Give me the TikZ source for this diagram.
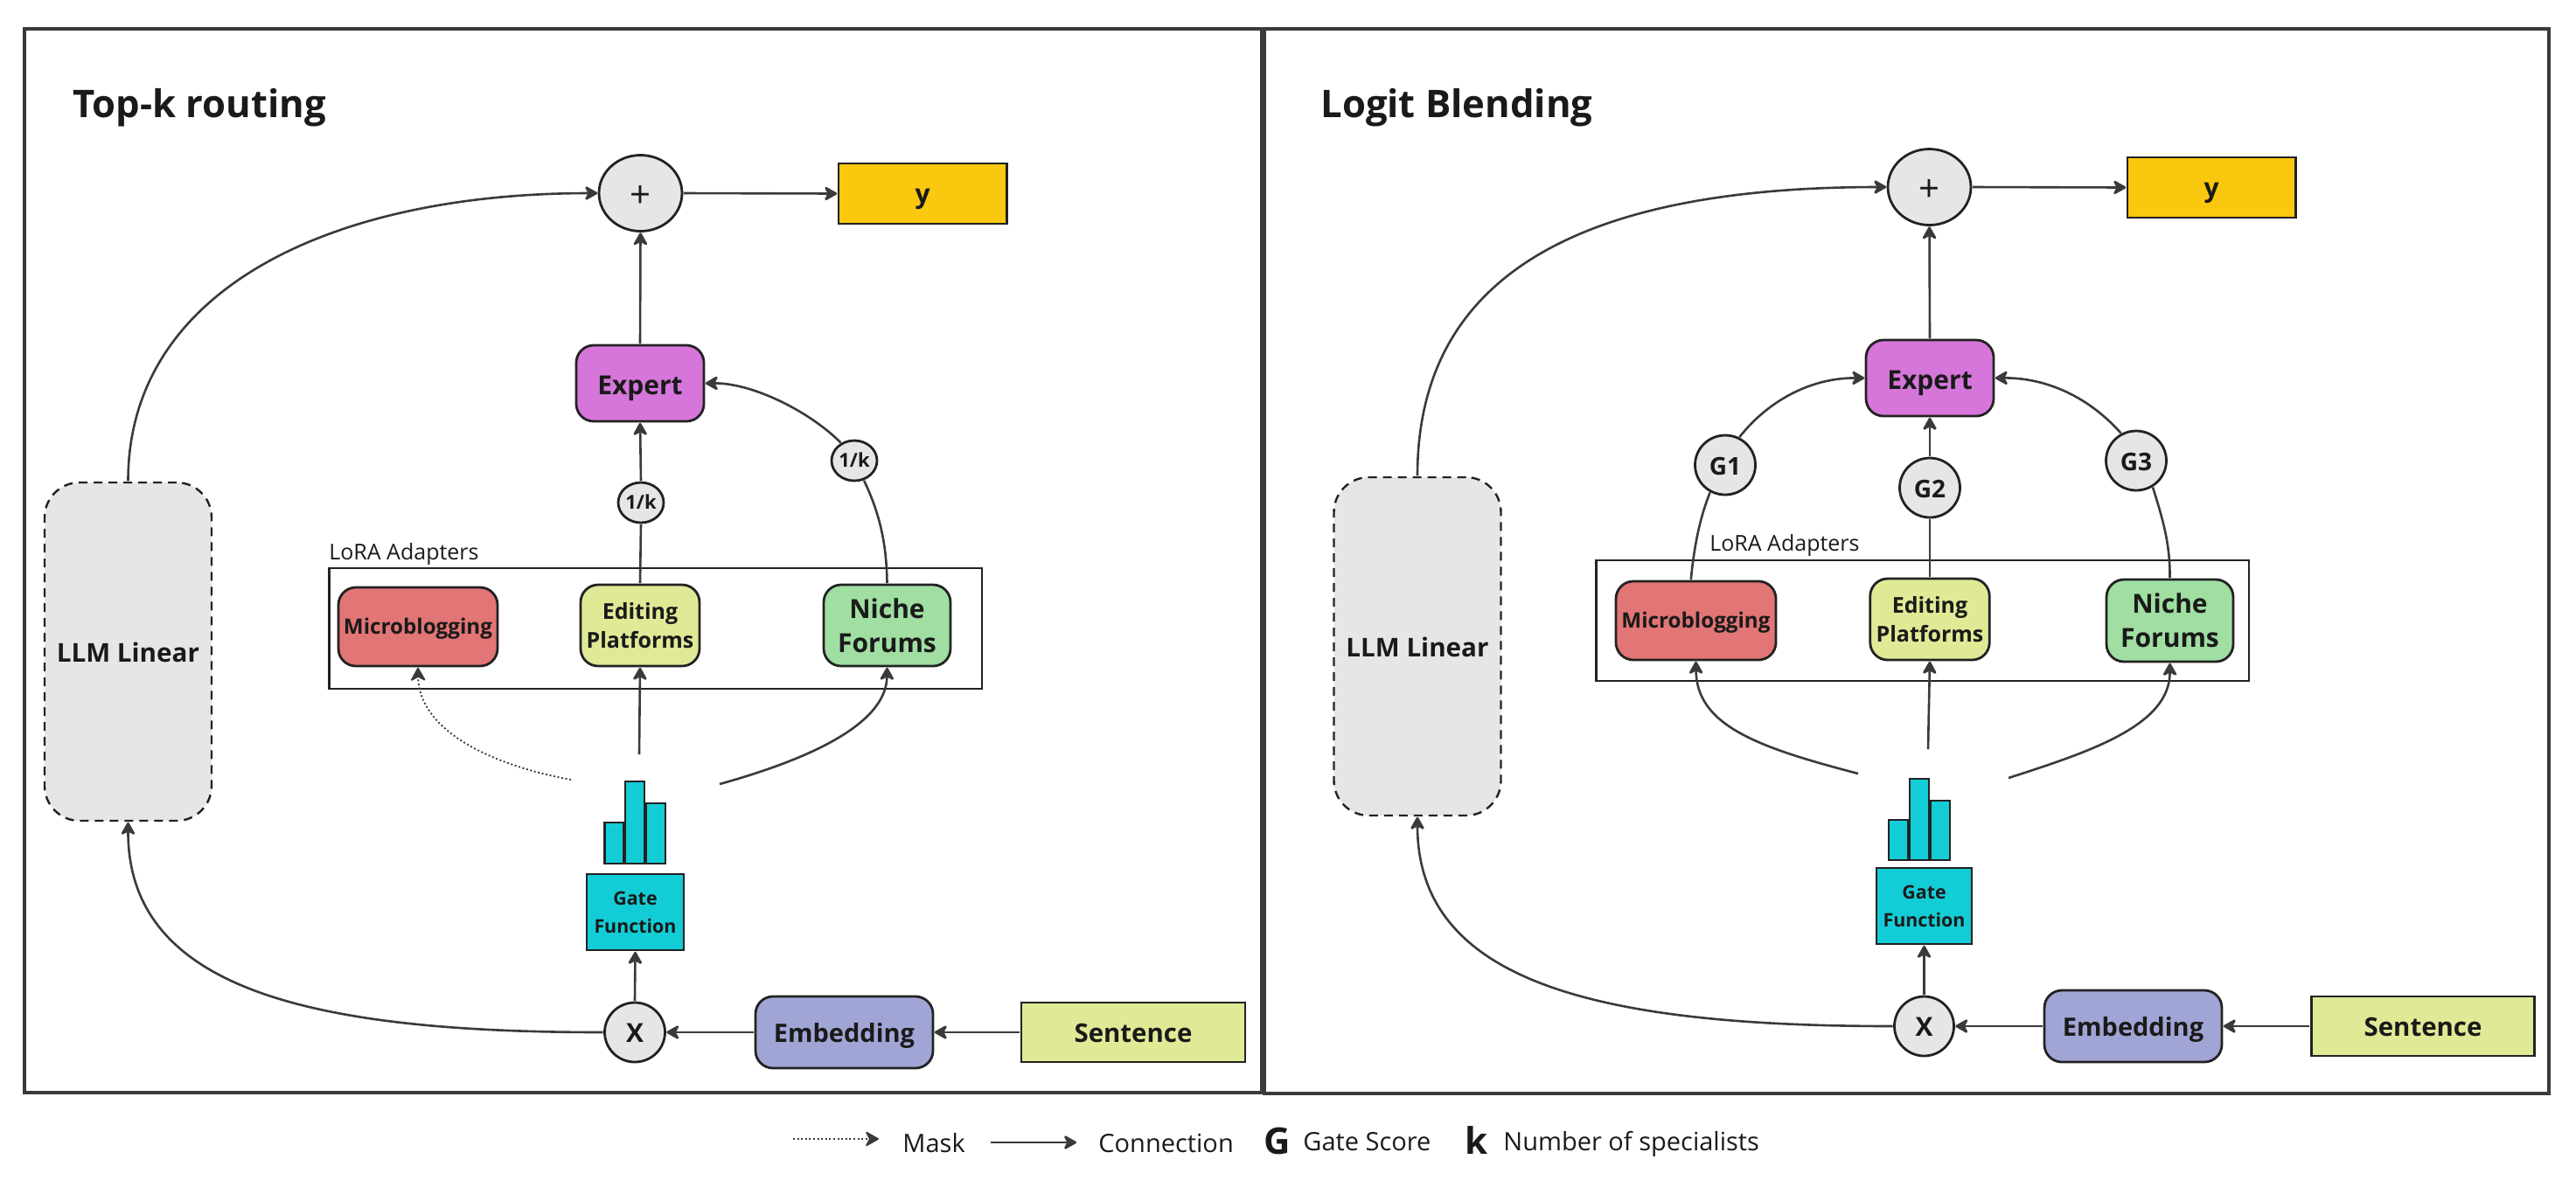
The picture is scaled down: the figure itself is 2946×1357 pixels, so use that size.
\documentclass[tikz,border=0pt]{standalone}
\usepackage{fontspec}
\setmainfont{Open Sans}
\usetikzlibrary{arrows.meta,shapes.geometric}
\definecolor{lineC}{HTML}{3A3A3A}
\definecolor{edgeC}{HTML}{222222}
\definecolor{txtC}{HTML}{1A1A1A}
\definecolor{grayF}{HTML}{E6E6E6}
\definecolor{purpF}{HTML}{D676DB}
\definecolor{redF}{HTML}{E27575}
\definecolor{limeF}{HTML}{E0E995}
\definecolor{greenF}{HTML}{A0DEA2}
\definecolor{tealF}{HTML}{13CDD6}
\definecolor{blueF}{HTML}{A1A5D5}
\definecolor{goldF}{HTML}{FAC80F}
\newcommand{\fs}[2]{\fontsize{#1}{#2}\selectfont}
\tikzset{
  x=0.5pt,y=-0.5pt,
  wh/.style 2 args={minimum width=#1*0.5pt,minimum height=#2*0.5pt},
  nbase/.style={draw=edgeC,line width=1.4pt,inner sep=0pt,outer sep=0.9pt,text=txtC,align=center,font=\bfseries},
  rbox/.style={nbase,rectangle,rounded corners=10pt},
  sbox/.style={nbase,rectangle},
  oval/.style={nbase,ellipse,fill=grayF},
  llmbox/.style={nbase,rectangle,rounded corners=20pt,fill=grayF,dash pattern=on 5pt off 3.5pt,line width=1.2pt},
  groupbox/.style={draw=edgeC,line width=1.4pt},
  panelbox/.style={draw=lineC,line width=1.7pt},
  barbox/.style={draw=edgeC,line width=1.2pt,fill=tealF},
  conn/.style={draw=lineC,line width=1.3pt},
  arr/.style={conn,-{Stealth[length=8.5pt,width=9.5pt,inset=2.5pt,round]}},
  maskarr/.style={draw=lineC,line width=0.9pt,dash pattern=on 1pt off 1.3pt,-{Stealth[length=8.5pt,width=9.5pt,inset=2.5pt,round]}},
  txtlabel/.style={inner sep=0pt,anchor=base west,text=txtC},
  oneline/.style={align=none,text height=#1,text depth=0pt},
}
\begin{document}
\begin{tikzpicture}
\useasboundingbox (0,0) rectangle (2946,1357);
% panels
\draw[panelbox] (28,33) rectangle (1443,1250);
\draw[panelbox] (1446,33) rectangle (2915,1251);
\node[txtlabel,font=\bfseries\fs{21.8}{26}] (ttla) at (83,134) {Top-k routing};
\node[txtlabel,font=\bfseries\fs{21.8}{26}] (ttlb) at (1510,134) {Logit Blending};

% ---------- left panel ----------
\draw[groupbox] (376.5,650) rectangle (1123,788);
\node[txtlabel,font=\fs{12.5}{15}] (lora) at (376,640) {LoRA Adapters};
\node[oval,oneline=16pt,wh={95}{87},font=\fs{21}{24}] (plusa) at (732.5,221) {+};
\node[sbox,oneline=11pt,fill=goldF,wh={192.5}{69},font=\bfseries\fs{15}{18}] (ya) at (1055.25,221.5) {y};
\node[rbox,oneline=12.5pt,fill=purpF,wh={146}{87},font=\bfseries\fs{15}{18}] (experta) at (732,438.5) {Expert};
\node[oval,oneline=7.5pt,wh={52}{46},font=\bfseries\fs{11}{13}] (ka1) at (733,575) {1/k};
\node[oval,oneline=7.5pt,wh={52}{46},font=\bfseries\fs{11}{13}] (ka2) at (977,527) {1/k};
\node[rbox,oneline=8pt,fill=redF,wh={182}{90},font=\bfseries\fs{12.1}{15}] (mba) at (478,717) {Microblogging};
\node[rbox,fill=limeF,wh={136}{93},font=\bfseries\fs{12.5}{16.5}] (eda) at (732,715.5) {Editing\\Platforms};
\node[rbox,fill=greenF,wh={145}{93},font=\bfseries\fs{15}{19.5}] (nia) at (1014.5,715.5) {Niche\\Forums};
\node[sbox,fill=tealF,wh={111}{87},font=\bfseries\fs{10.7}{16}] (gatea) at (726.5,1043.5) {Gate\\Function};
\node[oval,oneline=11.5pt,wh={69}{68},font=\bfseries\fs{15}{18}] (xa) at (726,1181) {X};
\node[rbox,oneline=11.5pt,fill=blueF,wh={203}{82},font=\bfseries\fs{14.5}{18}] (ema) at (965.5,1181) {Embedding};
\node[sbox,oneline=11.5pt,fill=limeF,wh={256}{68},font=\bfseries\fs{14.7}{18}] (sea) at (1296,1181) {Sentence};
\node[llmbox,oneline=12pt,wh={191}{387},font=\bfseries\fs{14.8}{18}] (llma) at (146.5,745.5) {LLM Linear};
\draw[barbox] (691.5,941) rectangle (713.5,988);
\draw[barbox] (715,894) rectangle (737,988);
\draw[barbox] (739,919) rectangle (761,988);
\coordinate (hmida) at (731,863);
\coordinate (hlefta) at (653,892);
\coordinate (hrighta) at (823,897);

\draw[arr] (sea.west) -- (ema.east);
\draw[arr] (ema.west) -- (xa.east);
\draw[arr] (xa.north) -- (gatea.south);
\draw[arr] (xa.west) .. controls (350,1181) and (146,1130) .. (llma.south);
\draw[arr] (llma.north) .. controls (146.5,330) and (380,221) .. (plusa.west);
\draw[arr] (plusa.east) -- (ya.west);
\draw[arr] (experta.north) -- (plusa.south);
\draw[conn] (eda.north) -- (ka1.south);
\draw[arr] (ka1.north) -- (experta.south);
\draw[conn] (nia.north) .. controls (1014,620) and (1005,585) .. (ka2.-64);
\draw[arr] (ka2.127) .. controls (925,470) and (860,438) .. (experta.east);
\draw[arr] (hmida) -- (eda.south);
\draw[arr] (hrighta) .. controls (920,870) and (1014,830) .. (nia.south);
\draw[maskarr] (hlefta) .. controls (560,875) and (479,835) .. (mba.south);

% ---------- right panel ----------
\draw[groupbox] (1825.5,641) rectangle (2572,779);
\node[txtlabel,font=\fs{12.5}{15}] (lorb) at (1955,630) {LoRA Adapters};
\node[oval,oneline=16pt,wh={95}{87},font=\fs{21}{24}] (plusb) at (2206.5,214) {+};
\node[sbox,oneline=11pt,fill=goldF,wh={192.5}{69},font=\bfseries\fs{15}{18}] (yb) at (2529.25,214.5) {y};
\node[rbox,oneline=12.5pt,fill=purpF,wh={146}{87},font=\bfseries\fs{15}{18}] (expertb) at (2207,432.5) {Expert};
\node[oval,oneline=11pt,wh={69}{68},font=\bfseries\fs{14}{17}] (g1) at (1973,532) {G1};
\node[oval,oneline=11pt,wh={69}{68},font=\bfseries\fs{14}{17}] (g2) at (2207,558) {G2};
\node[oval,oneline=11pt,wh={69}{68},font=\bfseries\fs{14}{17}] (g3) at (2443,527) {G3};
\node[rbox,oneline=8pt,fill=redF,wh={183}{90},font=\bfseries\fs{12.1}{15}] (mbb) at (1939.5,710) {Microblogging};
\node[rbox,fill=limeF,wh={136.5}{93},font=\bfseries\fs{12.5}{16.5}] (edb) at (2207,708.5) {Editing\\Platforms};
\node[rbox,fill=greenF,wh={145}{94},font=\bfseries\fs{15}{19.5}] (nib) at (2481.5,710) {Niche\\Forums};
\node[sbox,fill=tealF,wh={109}{87},font=\bfseries\fs{10.7}{16}] (gateb) at (2200.5,1036.5) {Gate\\Function};
\node[oval,oneline=11.5pt,wh={68}{68},font=\bfseries\fs{15}{18}] (xb) at (2200.5,1174) {X};
\node[rbox,oneline=11.5pt,fill=blueF,wh={203}{82},font=\bfseries\fs{14.5}{18}] (emb) at (2439.5,1174) {Embedding};
\node[sbox,oneline=11.5pt,fill=limeF,wh={255.5}{68},font=\bfseries\fs{14.7}{18}] (seb) at (2771,1174) {Sentence};
\node[llmbox,oneline=12pt,wh={191}{387},font=\bfseries\fs{14.8}{18}] (llmb) at (1621,739.5) {LLM Linear};
\draw[barbox] (2160,938) rectangle (2182.5,984);
\draw[barbox] (2184,891) rectangle (2206,984);
\draw[barbox] (2208,916) rectangle (2230,984);
\coordinate (hmidb) at (2205,857);
\coordinate (hleftb) at (2125,885);
\coordinate (hrightb) at (2297,890);

\draw[arr] (seb.west) -- (emb.east);
\draw[arr] (emb.west) -- (xb.east);
\draw[arr] (xb.north) -- (gateb.south);
\draw[arr] (xb.west) .. controls (1825,1174) and (1621,1123) .. (llmb.south);
\draw[arr] (llmb.north) .. controls (1621,310) and (1815,214) .. (plusb.west);
\draw[arr] (plusb.east) -- (yb.west);
\draw[arr] (expertb.north) -- (plusb.south);
\draw[conn] (mbb.97) .. controls (1938,620) and (1945,590) .. (g1.241);
\draw[arr] (g1.63) .. controls (2025,455) and (2075,432) .. (expertb.west);
\draw[conn] (edb.north) -- (g2.south);
\draw[arr] (g2.north) -- (expertb.south);
\draw[conn] (nib.north) .. controls (2482,620) and (2472,590) .. (g3.-58);
\draw[arr] (g3.119) .. controls (2385,450) and (2335,432) .. (expertb.east);
\draw[arr] (hmidb) -- (edb.south);
\draw[arr] (hleftb) .. controls (2010,855) and (1940,830) .. (mbb.south);
\draw[arr] (hrightb) .. controls (2390,860) and (2482,830) .. (nib.south);

% ---------- legend ----------
\coordinate (lega) at (907,1303);
\coordinate (legb) at (1005,1303);
\coordinate (legc) at (1133,1307);
\coordinate (legd) at (1231,1307);
\draw[maskarr] (lega) -- (legb);
\draw[arr] (legc) -- (legd);
\node[txtlabel,font=\fs{14.5}{16}] (lmask) at (1032,1318) {Mask};
\node[txtlabel,font=\fs{14.5}{16}] (lconn) at (1256,1318) {Connection};
\node[txtlabel,font=\bfseries\fs{21}{25}] (lg) at (1445,1320) {G};
\node[txtlabel,font=\fs{14.5}{16}] (lgs) at (1490,1316) {Gate Score};
\node[txtlabel,font=\bfseries\fs{21}{25}] (lk) at (1675,1320) {k};
\node[txtlabel,font=\fs{14.5}{16}] (lnum) at (1719,1316) {Number of specialists};
\end{tikzpicture}
\end{document}
